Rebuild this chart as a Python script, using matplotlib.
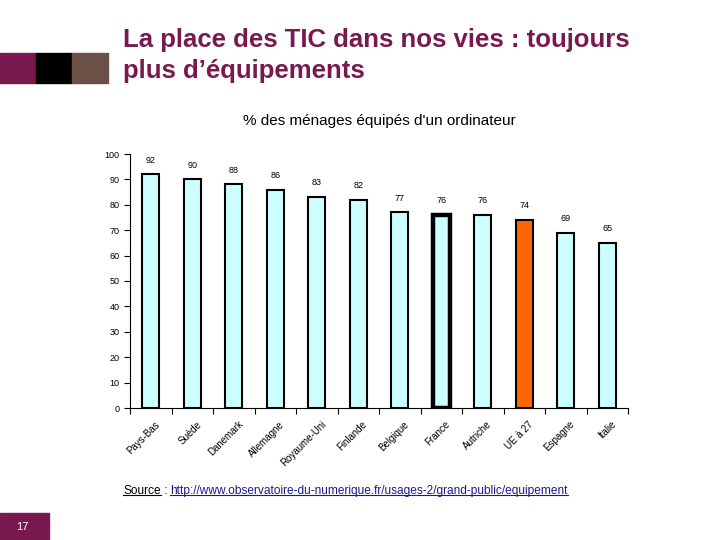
import matplotlib
matplotlib.use('Agg')
import matplotlib.pyplot as plt
import matplotlib.patches as mpatches
import matplotlib.transforms as mtransforms
import numpy as np

countries = ['Pays-Bas', 'Suède', 'Danemark', 'Allemagne', 'Royaume-Uni', 'Finlande',
             'Belgique', 'France', 'Autriche', 'UE à 27', 'Espagne', 'Italie']
values = [92, 90, 88, 86, 83, 82, 77, 76, 76, 74, 69, 65]
yticks = list(range(0, 101, 10))

PURPLE = '#781a50'
plt.rcParams['font.family'] = ['Liberation Sans', 'DejaVu Sans']

fig = plt.figure(figsize=(7.2, 5.4), dpi=100)

# decorative squares, top left
for i, c in enumerate([PURPLE, '#000000', '#6b5048']):
    fig.patches.append(mpatches.Rectangle((i * 36 / 720, 1 - 83 / 540), 36 / 720, 30 / 540,
                                          transform=fig.transFigure, color=c, zorder=0))

fig.text(123 / 720, 1 - 40 / 540, 'La place des TIC dans nos vies : toujours',
         fontsize=18.5, fontweight='bold', color=PURPLE, va='center')
fig.text(123 / 720, 1 - 71 / 540, 'plus d’équipements',
         fontsize=18.5, fontweight='bold', color=PURPLE, va='center')

fig.text(379 / 720, 1 - 121 / 540, '% des ménages équipés d\'un ordinateur',
         fontsize=11, ha='center', va='center')

ax = fig.add_axes([130 / 720, 1 - 408 / 540, 498 / 720, 254 / 540])
x = np.arange(len(countries))
colors = ['#ccffff'] * len(countries)
widths = [1.5] * len(countries)
colors[countries.index('UE à 27')] = '#ff6600'
widths[countries.index('France')] = 3.2
ax.bar(x, values, width=0.4, color=colors, edgecolor='black', linewidth=widths)

for xi, v in zip(x, values):
    ax.annotate(str(v), (xi, v), xytext=(0, 7), textcoords='offset points',
                ha='center', va='bottom', fontsize=6.5)

ax.set_xlim(-0.5, len(countries) - 0.5)
ax.set_ylim(0, 100)
ax.set_yticks(yticks)
ax.set_yticklabels([str(t) for t in yticks], fontsize=6.5)
ax.set_xticks(np.arange(len(countries) + 1) - 0.5)
ax.set_xticklabels([])
ax.set_xticks(x, minor=True)
ax.set_xticklabels(countries, minor=True, rotation=45, ha='right', va='top',
                   fontsize=7, rotation_mode='anchor')
ax.tick_params(axis='x', which='minor', length=0, pad=8)
ax.tick_params(axis='both', which='major', length=4, width=0.8, direction='out')
shift = mtransforms.ScaledTranslation(4 / 100, 0, fig.dpi_scale_trans)
for lbl in ax.get_xticklabels(minor=True):
    lbl.set_transform(lbl.get_transform() + shift)
for s in ['top', 'right']:
    ax.spines[s].set_visible(False)

# source line: "Source : url", both parts underlined
fig.canvas.draw()
r = fig.canvas.get_renderer()
inv = fig.transFigure.inverted()
ys = 1 - 491 / 540
xs = 123 / 720
parts = [('Source', 'black', True), (' : ', 'black', False),
         ('http://www.observatoire-du-numerique.fr/usages-2/grand-public/equipement', '#1a1a8c', True)]
for s, col, under in parts:
    t = fig.text(xs, ys, s, fontsize=8.6, va='center', color=col)
    bb = t.get_window_extent(r).transformed(inv)
    if under:
        fig.lines.append(plt.Line2D([bb.x0, bb.x1], [bb.y0 + 0.003, bb.y0 + 0.003],
                                    transform=fig.transFigure, color=col, lw=0.8))
    xs = bb.x1

# slide number
fig.patches.append(mpatches.Rectangle((0, 0), 49 / 720, 27 / 540, transform=fig.transFigure,
                                      color=PURPLE))
fig.text(22 / 720, 13 / 540, '17', color='white', fontsize=8, ha='center', va='center')

fig.savefig('out.png', dpi=100)
